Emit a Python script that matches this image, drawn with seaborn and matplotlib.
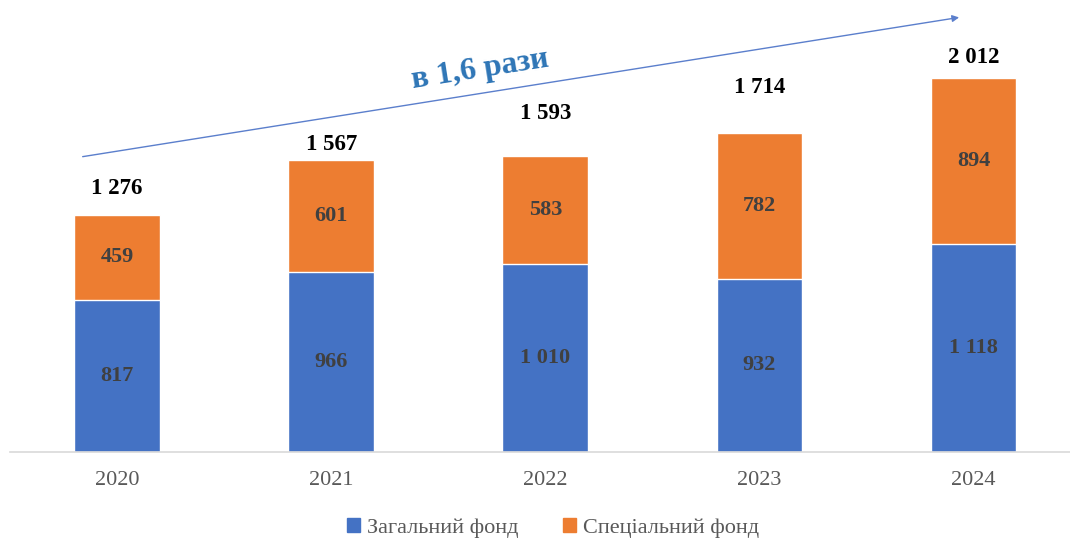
import pandas as pd
import seaborn as sns
import matplotlib.pyplot as plt
from matplotlib.patches import Patch

# Data (млн грн)
years = ['2020', '2021', '2022', '2023', '2024']
general_fund = [817, 966, 1010, 932, 1118]
special_fund = [459, 601, 583, 782, 894]

df = pd.DataFrame({'year': years, 'general': general_fund, 'special': special_fund})
df['total'] = df['general'] + df['special']


def fmt(v):
    return f'{v:,}'.replace(',', ' ')


blue = '#4472C4'
orange = '#ED7D31'

sns.set_style('white')
plt.rcParams['font.family'] = ['Liberation Serif', 'DejaVu Serif']

fig = plt.figure(figsize=(10.7, 5.38), dpi=100)
ax = fig.add_axes([0.0093, 0.16, 0.9907, 0.8216])

# stacked bars: total (orange) behind, general (blue) on top
sns.barplot(data=df, x='year', y='total', color=orange, width=0.4, saturation=1, ax=ax)
sns.barplot(data=df, x='year', y='general', color=blue, width=0.4, saturation=1, ax=ax)

ax.set_ylim(0, 2376)
ax.set_xlim(-0.5, 4.45)
ax.set_xlabel('')
ax.set_ylabel('')
ax.set_yticks([])
for s in ['top', 'left', 'right']:
    ax.spines[s].set_visible(False)
ax.spines['bottom'].set_color('#D9D9D9')
ax.spines['bottom'].set_linewidth(1.2)
ax.tick_params(axis='x', length=0, pad=14, labelsize=16, labelcolor='#595959')

# segment labels
for i, row in df.iterrows():
    ax.text(i, row['general'] / 2, fmt(row['general']), ha='center', va='center',
            fontsize=16, fontweight='bold', color='#404040')
    ax.text(i, row['general'] + row['special'] / 2, fmt(row['special']), ha='center',
            va='center', fontsize=16, fontweight='bold', color='#404040')

# total labels (pixel offsets above bar top)
label_offsets_px = [26, 16, 42, 46, 20]
for i, row in df.iterrows():
    ax.annotate(fmt(row['total']), (i, row['total']), xytext=(0, label_offsets_px[i] * 0.72),
                textcoords='offset points', ha='center', va='center',
                fontsize=16.5, fontweight='bold', color='black')

# growth arrow
ax.annotate('', xy=(0.898, 0.984), xytext=(0.066, 0.667), xycoords='axes fraction',
            textcoords='axes fraction',
            arrowprops=dict(arrowstyle='-|>', color='#5B7FCC', lw=1.0, mutation_scale=10))
ax.text(0.444, 0.865, 'в 1,6 рази', transform=ax.transAxes, rotation=9,
        ha='center', va='center', fontsize=23, fontweight='bold', color='#2E75B6')

handles = [Patch(color=blue, label='Загальний фонд'),
           Patch(color=orange, label='Спеціальний фонд')]
leg = fig.legend(handles=handles, loc='center', bbox_to_anchor=(0.517, 0.018), ncol=2,
                 frameon=False, fontsize=16, handlelength=0.6, handleheight=0.6,
                 handletextpad=0.3, columnspacing=2.0)
for t in leg.get_texts():
    t.set_color('#595959')

fig.savefig('out.png', dpi=100)
